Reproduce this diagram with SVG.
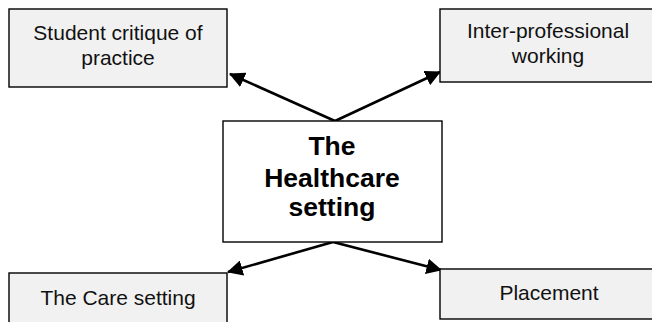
<svg xmlns="http://www.w3.org/2000/svg" width="652" height="322" viewBox="0 0 652 322">
<style>
.box{fill:#f1f1f1;stroke:#000;stroke-width:1.4}
.main{fill:#fff;stroke:#000;stroke-width:1.4}
.t{font-family:"Liberation Sans",Arial,sans-serif;font-size:21px;fill:#111;text-anchor:middle}
.b{font-family:"Liberation Sans",Arial,sans-serif;font-size:26.5px;font-weight:bold;fill:#000;text-anchor:middle}
.c{fill:none;stroke:#000;stroke-width:2.6}
</style>
<defs>
<marker id="ah" markerWidth="6" markerHeight="6" refX="5.6" refY="3" orient="auto" markerUnits="strokeWidth">
<path d="M0,0 L6,3 L0,6 z" fill="#000"/>
</marker>
</defs>
<rect width="652" height="322" fill="#fff"/>
<g id="connectors">
<line class="c" x1="335" y1="121" x2="230" y2="74" marker-end="url(#ah)"/>
<line class="c" x1="335" y1="121" x2="440" y2="72" marker-end="url(#ah)"/>
<line class="c" x1="333" y1="242" x2="228" y2="272" marker-end="url(#ah)"/>
<line class="c" x1="333" y1="242" x2="441" y2="270" marker-end="url(#ah)"/>
</g>
<g id="student">
<rect class="box" x="9" y="9" width="218" height="78"/>
<text class="t" x="118" y="40">Student critique of</text>
<text class="t" x="118" y="65">practice</text>
</g>
<g id="interprof">
<rect class="box" x="440" y="9" width="220" height="73"/>
<text class="t" x="548" y="38">Inter-professional</text>
<text class="t" x="548" y="63">working</text>
</g>
<g id="healthcare">
<rect class="main" x="223" y="121" width="219" height="121"/>
<text class="b" x="332" y="155">The</text>
<text class="b" x="332" y="187">Healthcare</text>
<text class="b" x="332" y="216">setting</text>
</g>
<g id="care">
<rect class="box" x="9" y="273" width="218" height="60"/>
<text class="t" x="118" y="305">The Care setting</text>
</g>
<g id="placement">
<rect class="box" x="440" y="269" width="220" height="50"/>
<text class="t" x="549" y="300">Placement</text>
</g>
</svg>
